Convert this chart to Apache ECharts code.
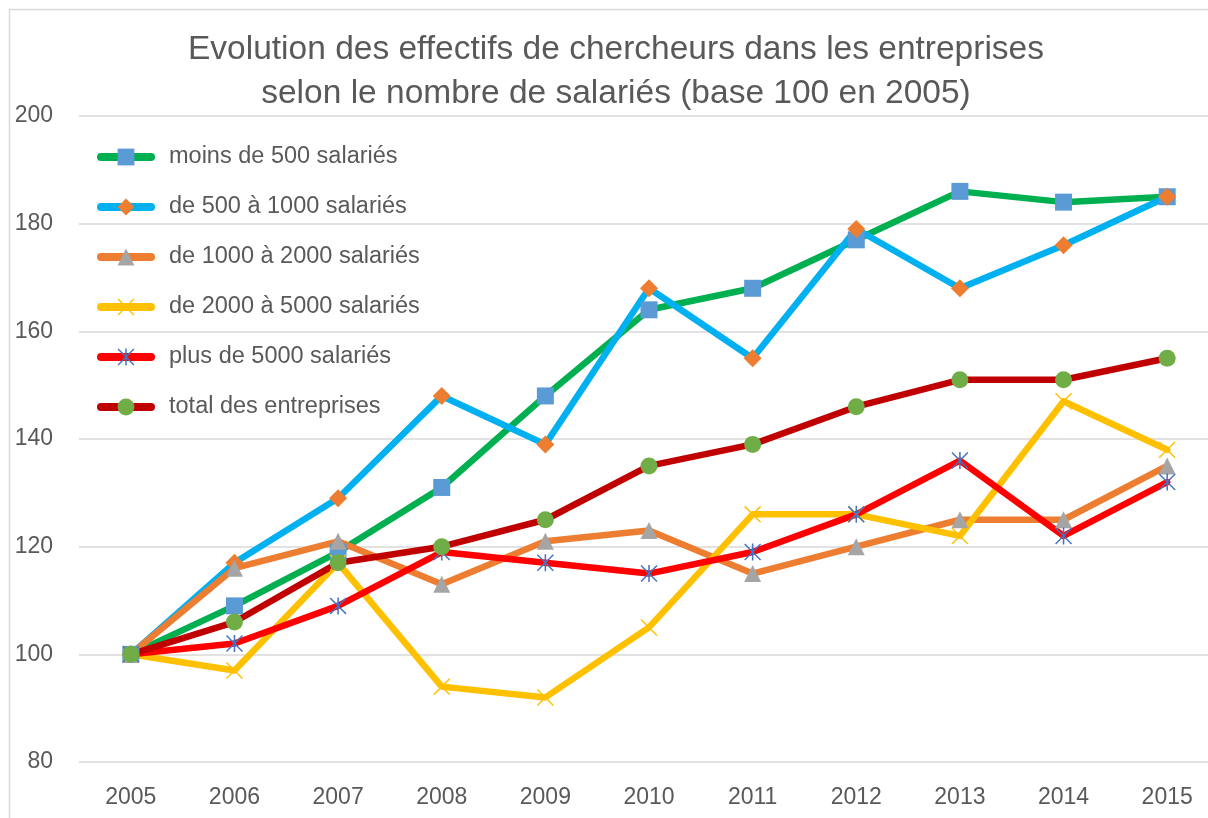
<!DOCTYPE html>
<html>
<head>
<meta charset="utf-8">
<script src="https://cdn.jsdelivr.net/npm/echarts@6/dist/echarts.min.js"></script>
<style>
html, body { margin: 0; padding: 0; background: #fff; }
#main { width: 1208px; height: 818px; }
</style>
</head>
<body>
<div id="main"></div>
<script>
// donnees (base 100 en 2005)
var years = ['2005', '2006', '2007', '2008', '2009', '2010', '2011', '2012', '2013', '2014', '2015'];
var moins500 = [100, 109, 119, 131, 148, 164, 168, 177, 186, 184, 185];
var de500a1000 = [100, 117, 129, 148, 139, 168, 155, 179, 168, 176, 185];
var de1000a2000 = [100, 116, 121, 113, 121, 123, 115, 120, 125, 125, 135];
var de2000a5000 = [100, 97, 117, 94, 92, 105, 126, 126, 122, 147, 138];
var plus5000 = [100, 102, 109, 119, 117, 115, 119, 126, 136, 122, 132];
var total = [100, 106, 117, 120, 125, 135, 139, 146, 151, 151, 155];
var yTicks = [80, 100, 120, 140, 160, 180, 200];

var font = 'Liberation Sans';
var txtColor = '#595959';

// symboles "x" et asterisque (polygones fins)
var xPath = 'path://M0,1.2L1.2,0L10,8.8L18.8,0L20,1.2L11.2,10L20,18.8L18.8,20L10,11.2L1.2,20L0,18.8L8.8,10Z';
var starPath = 'path://M0,1.2L1.2,0L10,8.8L18.8,0L20,1.2L11.2,10L20,18.8L18.8,20L10,11.2L1.2,20L0,18.8L8.8,10Z M9.1,0L10.9,0L10.9,20L9.1,20Z';

function makeSeries(name, data, lineColor, symbol, symColor, size) {
    return {
        name: name,
        type: 'line',
        data: data,
        symbol: symbol,
        symbolSize: size,
        showAllSymbol: true,
        lineStyle: { color: lineColor, width: 6.5, cap: 'round', join: 'round' },
        itemStyle: { color: symColor },
        emphasis: { disabled: true },
        animation: false
    };
}

var chart = echarts.init(document.getElementById('main'));
chart.setOption({
    backgroundColor: '#fff',
    title: {
        text: 'Evolution des effectifs de chercheurs dans les entreprises\nselon le nombre de salariés (base 100 en 2005)',
        left: 611,
        top: 23,
        textAlign: 'center',
        textStyle: { fontFamily: font, fontSize: 33.5, fontWeight: 'normal', color: txtColor, lineHeight: 44 }
    },
    legend: {
        orient: 'vertical',
        left: 92,
        top: 140,
        itemWidth: 50,
        itemHeight: 21,
        itemGap: 26,
        lineStyle: { width: 8, cap: 'round' },
        textStyle: { fontFamily: font, fontSize: 23.5, color: txtColor, padding: [0, 0, 0, 13] },
        data: ['moins de 500 salariés', 'de 500 à 1000 salariés', 'de 1000 à 2000 salariés',
            'de 2000 à 5000 salariés', 'plus de 5000 salariés', 'total des entreprises']
    },
    grid: { left: 79, right: -11, top: 116, bottom: 56, outerBoundsMode: 'none' },
    xAxis: {
        type: 'category',
        data: years,
        boundaryGap: true,
        axisLine: { show: false },
        axisTick: { show: false },
        axisLabel: { fontFamily: font, fontSize: 23, color: txtColor, margin: 24 }
    },
    yAxis: {
        type: 'value',
        min: yTicks[0],
        max: yTicks[yTicks.length - 1],
        interval: 20,
        axisLine: { show: false },
        axisTick: { show: false },
        axisLabel: { fontFamily: font, fontSize: 23, color: txtColor, margin: 26 },
        splitLine: { lineStyle: { color: '#d9d9d9', width: 1.5 } }
    },
    graphic: [{
        type: 'rect',
        shape: { x: 9.5, y: 9.5, width: 1300, height: 1000 },
        style: { fill: 'none', stroke: '#d9d9d9', lineWidth: 1.5 },
        silent: true
    }],
    series: [
        makeSeries('moins de 500 salariés', moins500, '#00b050', 'rect', '#5b9bd5', 17),
        makeSeries('de 500 à 1000 salariés', de500a1000, '#00b0f0', 'diamond', '#ed7d31', 18),
        makeSeries('de 1000 à 2000 salariés', de1000a2000, '#ed7d31', 'triangle', '#a5a5a5', 17),
        makeSeries('de 2000 à 5000 salariés', de2000a5000, '#ffc000', xPath, '#ffc000', 17),
        makeSeries('plus de 5000 salariés', plus5000, '#ff0000', starPath, '#4472c4', 17),
        makeSeries('total des entreprises', total, '#c00000', 'circle', '#70ad47', 17)
    ]
});
</script>
</body>
</html>
